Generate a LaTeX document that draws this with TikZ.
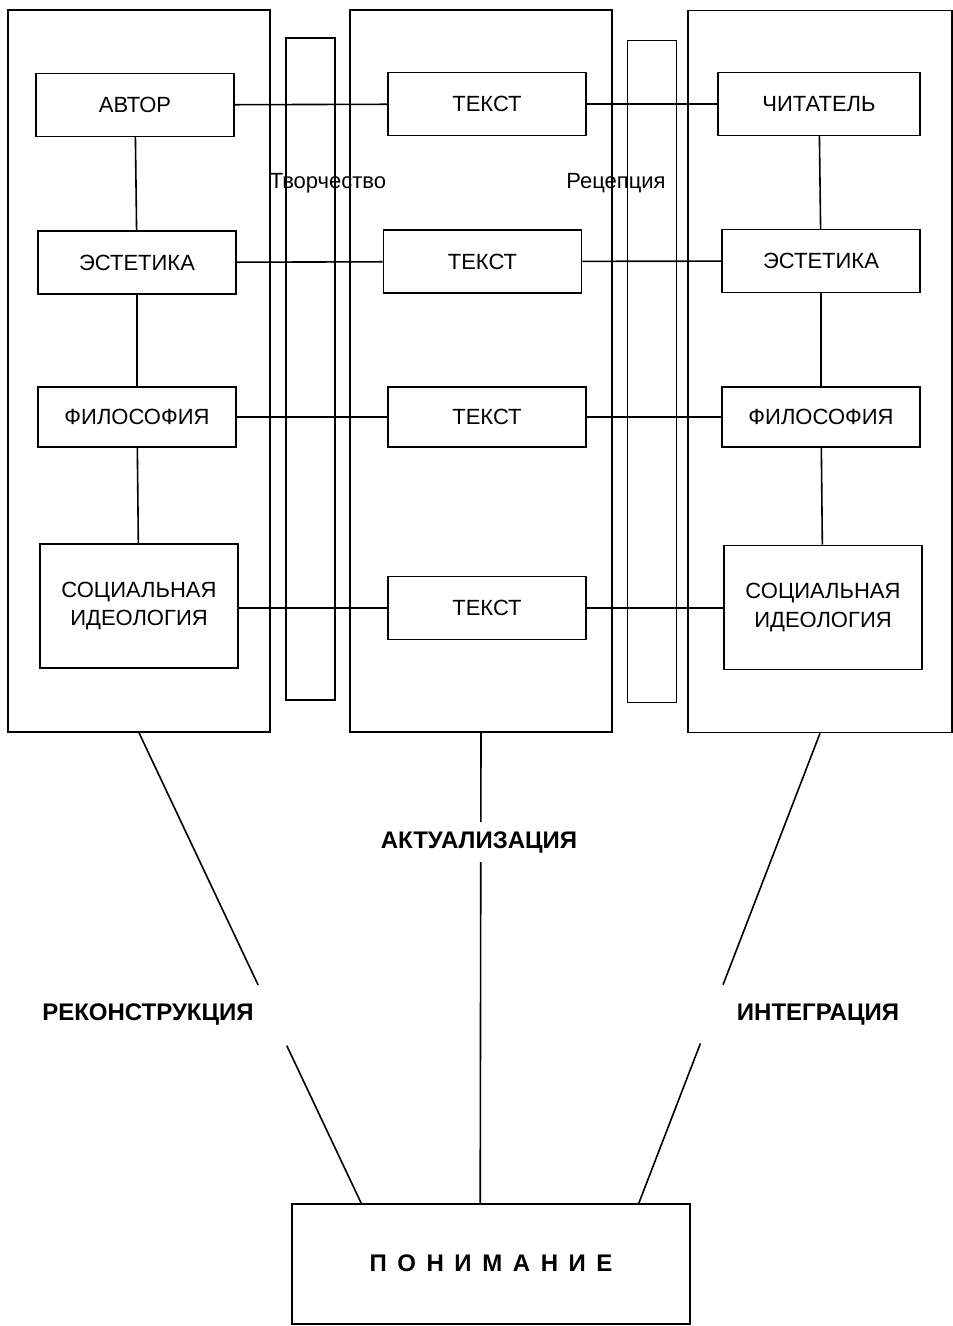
\documentclass[tikz,border=0pt]{standalone}
\usepackage{fontspec}
\setmainfont{Liberation Sans}
\usetikzlibrary{positioning, calc}

\begin{document}
\begin{tikzpicture}[
    x=0.75pt, y=-0.75pt,
    line width=1.2pt,
    every node/.style={font=\fontsize{16.5}{21.5}\selectfont},
    panel/.style={
        rectangle,
        draw,
        line width=1.2pt,
        inner sep=0pt,
        minimum width=196.5pt,
        minimum height=541.5pt
    },
    bar/.style={
        rectangle,
        draw,
        line width=1.2pt,
        inner sep=0pt,
        minimum width=36.75pt,
        minimum height=496.5pt
    },
    item/.style={
        rectangle,
        draw,
        line width=1.2pt,
        align=center,
        inner sep=0pt,
        minimum width=148.5pt,
        minimum height=47pt
    },
    tall/.style={item, minimum height=93pt},
    label/.style={font=\fontsize{18}{21}\selectfont\bfseries}
]

\useasboundingbox (0,0) rectangle (952,1326);

% columns
\node[panel] (lp) at (139,371) {};
\node[panel] (mp) at (481,371) {};
\node[panel, minimum width=198pt] (rp) at (820,371.5) {};
\node[bar] (lb) at (310.5,369) {};
\node[bar] (rb) at (652,371.5) {};

\node (tvor) at (328,183) {Творчество};
\node (rec) at (616,183) {Рецепция};

% author side
\node[item] (avtor) at (135,105) {АВТОР};
\node[item] (lest) at (137,262.5) {ЭСТЕТИКА};
\node[item, minimum height=45pt] (lfil) at (137,417) {ФИЛОСОФИЯ};
\node[tall] (lsoc) at (139,606) {СОЦИАЛЬНАЯ\\ИДЕОЛОГИЯ};

% text
\node[item] (t1) at (487,104) {ТЕКСТ};
\node[item] (t2) at (482.5,261.5) {ТЕКСТ};
\node[item, minimum height=45pt] (t3) at (487,417) {ТЕКСТ};
\node[item] (t4) at (487,608) {ТЕКСТ};

% reader side
\node[item, minimum width=151.5pt] (chit) at (819,104) {ЧИТАТЕЛЬ};
\node[item] (rest) at (821,261) {ЭСТЕТИКА};
\node[item, minimum height=45pt] (rfil) at (821,417) {ФИЛОСОФИЯ};
\node[tall] (rsoc) at (823,607.5) {СОЦИАЛЬНАЯ\\ИДЕОЛОГИЯ};

\draw (avtor) -- (lest);
\draw (lest) -- (lfil);
\draw (lfil) -- (lsoc);
\draw (chit) -- (rest);
\draw (rest) -- (rfil);
\draw (rfil) -- (rsoc);

\draw (avtor) -- (t1);
\draw (lest) -- (t2);
\draw (lfil) -- (t3);
\draw (lsoc.east |- t4) -- (t4);
\draw (t1) -- (chit);
\draw (t2) -- (rest);
\draw (t3) -- (rfil);
\draw (t4) -- (rsoc.west |- t4);

% understanding
\node[rectangle, draw, line width=1.2pt, minimum width=298.5pt, minimum height=90pt] (und) at (491,1264) {};
\node[label] (undtxt) at (491,1263) {\addfontfeature{LetterSpace=44}ПОНИМАНИЕ};
\coordinate (ul) at ($(und.north west)+(70,0)$);
\coordinate (um) at ($(und.north west)+(189,0)$);
\coordinate (ur) at ($(und.north east)+(-52,0)$);

\node[label] (recon) at (148,1015) {РЕКОНСТРУКЦИЯ};
\node[label] (akt) at (479,843) {АКТУАЛИЗАЦИЯ};
\node[label] (integ) at (818,1015) {ИНТЕГРАЦИЯ};

\draw (lp.south) -- ($(lp.south)!0.536!(ul)$);
\draw ($(lp.south)!0.665!(ul)$) -- (ul);
\draw (mp.south) -- ($(mp.south)!0.19!(um)$);
\draw ($(mp.south)!0.275!(um)$) -- (um);
\draw (rp.south) -- ($(rp.south)!0.535!(ur)$);
\draw ($(rp.south)!0.66!(ur)$) -- (ur);

\end{tikzpicture}
\end{document}
